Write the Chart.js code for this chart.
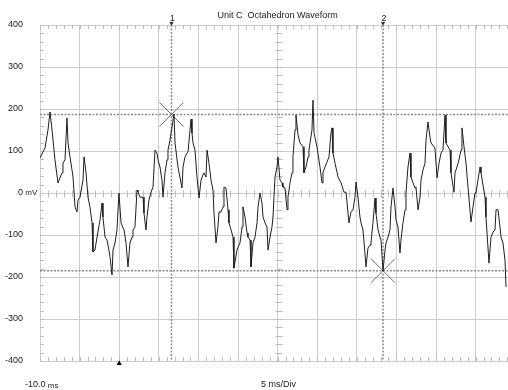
<!DOCTYPE html>
<html>
<head>
<meta charset="utf-8">
<script src="https://cdn.jsdelivr.net/npm/chart.js@4/dist/chart.umd.min.js"></script>
<style>
  html, body { margin: 0; padding: 0; background: #fff; }
  canvas { display: block; }
</style>
</head>
<body>
<canvas id="scope" width="508" height="390"></canvas>
<script>
// Waveform samples (time in ms, amplitude in mV)
const timeMs = [
  -10.00, -9.62, -9.37, -8.99, -8.74, -8.48, -8.11, -7.73, -7.22, -7.10, -6.84, -6.59, -6.46, -6.21, -5.96, -5.83,
  -5.58, -5.33, -5.20, -4.95, -4.57, -4.44, -4.19, -3.94, -3.69, -3.43, -3.31, -3.06, -2.80, -2.68, -2.42, -2.17,
  -2.05, -1.79, -1.54, -1.41, -1.16, -0.91, -0.78, -0.53, -0.28, -0.03, 0.23, 0.48, 0.61, 0.86, 1.11, 1.36,
  1.62, 1.74, 1.99, 2.25, 2.37, 2.63, 3.01, 3.13, 3.38, 3.51, 3.76, 4.01, 4.27, 4.52, 4.77, 4.90,
  5.15, 5.40, 5.53, 5.78, 6.04, 6.16, 6.41, 6.92, 7.05, 7.42, 7.93, 8.06, 8.31, 8.56, 8.69, 8.94,
  9.07, 9.19, 9.32, 9.57, 9.82, 10.08, 10.33, 10.58, 10.71, 10.96, 11.09, 11.34, 11.59, 11.84, 11.97, 12.22,
  12.47, 12.60, 12.85, 13.11, 13.23, 13.48, 13.74, 13.86, 14.12, 14.37, 14.49, 14.87, 15.00, 15.25, 15.51, 15.63,
  15.88, 16.14, 16.26, 16.52, 16.64, 16.89, 17.15, 17.40, 17.53, 17.78, 18.03, 18.16, 18.41, 18.66, 18.79, 19.04,
  19.29, 19.42, 19.67, 19.92, 20.05, 20.30, 20.56, 20.68, 20.93, 21.19, 21.31, 21.57, 21.82, 21.94, 22.20, 22.32,
  22.58, 22.83, 23.21, 23.33, 23.59, 23.84, 23.96, 24.34, 24.47, 24.60, 24.97, 25.35, 25.61, 25.73, 25.98, 26.24,
  26.49, 26.74, 26.87, 26.99, 27.25, 27.63, 28.01, 28.38, 28.64, 29.01, 29.27, 29.52, 29.77, 29.90, 30.15, 30.40,
  30.53, 30.78, 31.03, 31.16, 31.41, 31.67, 31.79, 32.04, 32.30, 32.42, 32.68, 32.93, 33.06, 33.31, 33.56, 33.69,
  33.94, 34.19, 34.32, 34.57, 34.82, 34.95, 35.20, 35.45, 35.58, 35.83, 36.09, 36.21, 36.46, 36.72, 36.84, 37.10,
  37.35, 37.47, 37.73, 37.98, 38.11, 38.36, 38.61, 38.74, 38.99, 39.24, 39.37, 39.87, 40.13, 40.38, 40.63, 40.88,
  41.14, 41.26, 41.77, 41.89, 42.27, 42.40, 42.65, 42.90, 43.16, 43.28, 43.54, 43.79, 44.04, 44.29, 44.42, 44.67,
  44.92, 45.05, 45.30, 45.56, 45.68, 45.93, 46.19, 46.31, 46.69, 46.94, 47.20, 47.45, 47.58, 47.83, 48.08, 48.21,
  48.46, 48.71, 48.84
];
const voltageMv = [
  83, 98, 107, 150, 193, 150, 79, 24, 48, 71, 79, 179, 119, 86, 55, 38,
  -33, -45, -17, -10, 31, 86, 48, -10, -33, -71, -140, -136, -105, -105, -64, -24,
  -57, -105, -112, -124, -152, -195, -136, -119, -88, 0, -71, -83, -88, -119, -176, -119,
  -105, -88, -81, 7, 2, -10, -10, -48, -88, -57, -17, 2, 14, 102, 95, 79,
  62, 31, -10, 48, 79, 102, 126, 188, 119, 62, 12, 62, 86, 95, 98, 150,
  176, 143, 119, 102, 38, -12, 31, 43, 48, 38, 102, 71, 31, 7, -48, -119,
  -81, -45, -45, -33, 14, 12, -40, -71, -88, -105, -179, -136, -129, -119, -81, -33,
  -57, -95, -105, -112, -176, -119, -105, -71, -33, 0, -24, -57, -71, -81, -136, -105,
  -81, -57, 38, 62, 86, 31, 24, 14, 12, -40, -10, 24, 48, 86, 150, 186,
  138, 119, 110, 48, 62, 86, 102, 150, 221, 143, 110, 62, 24, 48, 62, 74,
  86, 143, 155, 95, 71, 38, 24, 2, 2, -71, -45, -40, -10, 26, -10, -57,
  -71, -88, -143, -176, -131, -124, -119, -71, -12, -48, -88, -105, -112, -186, -136, -119,
  -105, -88, -33, 12, -33, -64, -81, -143, -112, -71, -40, 0, 62, 95, 38, 24,
  12, 14, -40, -10, 31, 55, 71, 126, 169, 133, 119, 107, 36, 71, 95, 102,
  186, 119, 102, 48, 2, 48, 62, 79, 102, 155, 110, 71, 14, -40, -69, -33,
  0, 0, 31, 62, 48, 19, -10, -57, -167, -105, -93, -88, -40, -40, -81, -105,
  -119, -160, -224
];

// Axis settings
const yTickValues = [400, 300, 200, 100, 0, -100, -200, -300, -400];
const timeStart = -10;
const timeEnd = 49.09;
const msPerDiv = 5;

// Cursors and trigger
const cursorTimes = [6.6, 33.31];
const cursorLevels = [187, -185];
const cursorNames = ['1', '2'];
const triggerTime = [0];

const GRID = '#cccccc';
const FONT = '"Liberation Sans", Arial, sans-serif';

const cursorColor = '#8a8a8a';

const datasets = [{
    data: timeMs.map((t, i) => ({ x: t, y: voltageMv[i] })),
    showLine: true,
    borderColor: '#1e1e1e',
    borderWidth: 1,
    pointRadius: 0,
    tension: 0
}];

// cursor crossings (X marks)
datasets.push({
    data: cursorTimes.map((t, i) => ({ x: t, y: cursorLevels[i] })),
    pointStyle: 'crossRot',
    pointRadius: 17,
    borderColor: '#707070',
    borderWidth: 1,
    showLine: false
});

// vertical cursor lines
cursorTimes.forEach(t => {
    datasets.push({
        data: [{ x: t, y: 400 }, { x: t, y: -400 }],
        showLine: true,
        borderColor: cursorColor,
        borderWidth: 1.5,
        borderDash: [2, 1.5],
        pointRadius: 0
    });
});

// horizontal cursor lines
cursorLevels.forEach(v => {
    datasets.push({
        data: [{ x: timeStart, y: v }, { x: timeEnd, y: v }],
        showLine: true,
        borderColor: cursorColor,
        borderWidth: 1.5,
        borderDash: [2, 1.5],
        pointRadius: 0
    });
});

// little arrows above the cursors
datasets.push({
    data: cursorTimes.map(t => ({ x: t, y: 404 })),
    pointStyle: 'triangle',
    rotation: 180,
    pointRadius: 2.5,
    backgroundColor: '#333',
    borderColor: '#333',
    borderWidth: 0,
    clip: false
});

// trigger marker at the bottom
datasets.push({
    data: triggerTime.map(t => ({ x: t, y: -406 })),
    pointStyle: 'triangle',
    pointRadius: 3,
    backgroundColor: '#000',
    borderColor: '#000',
    borderWidth: 0,
    clip: false
});

const scopeDecor = {
    id: 'scopeDecor',
    beforeDatasetsDraw(chart) {
        const { ctx, chartArea: a, scales: { x, y } } = chart;
        ctx.save();
        ctx.strokeStyle = '#bdbdbd';
        ctx.lineWidth = 1;
        ctx.beginPath();
        const xc = Math.round(x.getPixelForValue(timeStart + 6 * msPerDiv)) + 0.5;
        const yc = Math.round(y.getPixelForValue(0)) + 0.5;
        for (let t = timeStart; t <= timeEnd; t += 1) {
            const px = Math.round(x.getPixelForValue(t)) + 0.5;
            ctx.moveTo(px, a.top); ctx.lineTo(px, a.top + 4);
            ctx.moveTo(px, a.bottom); ctx.lineTo(px, a.bottom - 4);
            ctx.moveTo(px, yc - 3); ctx.lineTo(px, yc + 4);
        }
        for (let v = -400; v <= 400; v += 20) {
            const py = Math.round(y.getPixelForValue(v)) + 0.5;
            ctx.moveTo(a.left, py); ctx.lineTo(a.left + 4, py);
            ctx.moveTo(xc - 3, py); ctx.lineTo(xc + 4, py);
        }
        ctx.stroke();
        ctx.restore();
    },
    afterDraw(chart) {
        const { ctx, scales: { x, y } } = chart;
        ctx.save();
        ctx.fillStyle = '#222';
        ctx.textBaseline = 'middle';
        // y labels
        yTickValues.forEach(v => {
            const py = y.getPixelForValue(v);
            ctx.font = '9px ' + FONT;
            ctx.textAlign = 'right';
            ctx.fillText(String(v), 23, py);
            if (v === 0) {
                ctx.textAlign = 'left';
                ctx.font = '8px ' + FONT;
                ctx.fillText(' mV', 23, py);
            }
        });
        // title
        const xMid = x.getPixelForValue(timeStart + 6 * msPerDiv);
        ctx.font = '9px ' + FONT;
        ctx.textAlign = 'center';
        ctx.fillText('Unit C  Octahedron Waveform', xMid, 15.5);
        // cursor names
        cursorTimes.forEach((t, i) => {
            ctx.fillText(cursorNames[i], x.getPixelForValue(t) + 1, 19);
        });
        // bottom labels
        ctx.textAlign = 'center';
        ctx.fillText(msPerDiv + ' ms/Div', xMid + 1, 385);
        ctx.textAlign = 'left';
        ctx.fillText(timeStart.toFixed(1), 25, 385);
        const w = ctx.measureText(timeStart.toFixed(1)).width;
        ctx.font = '8px ' + FONT;
        ctx.fillText(' ms', 25 + w, 385.5);
        ctx.restore();
    }
};

new Chart(document.getElementById('scope'), {
    type: 'scatter',
    data: { datasets: datasets },
    plugins: [scopeDecor],
    options: {
        responsive: false,
        animation: false,
        devicePixelRatio: 1,
        layout: { autoPadding: false, padding: { left: 40, top: 25, right: 0, bottom: 29 } },
        plugins: { legend: { display: false }, tooltip: { enabled: false } },
        scales: {
            x: {
                type: 'linear',
                min: timeStart,
                max: timeEnd,
                ticks: { display: false, stepSize: msPerDiv, includeBounds: false },
                grid: { color: GRID, drawTicks: false },
                border: { color: GRID }
            },
            y: {
                type: 'linear',
                min: -400,
                max: 400,
                ticks: { display: false, stepSize: 100 },
                grid: { color: GRID, drawTicks: false },
                border: { color: GRID }
            }
        }
    }
});
</script>
</body>
</html>
